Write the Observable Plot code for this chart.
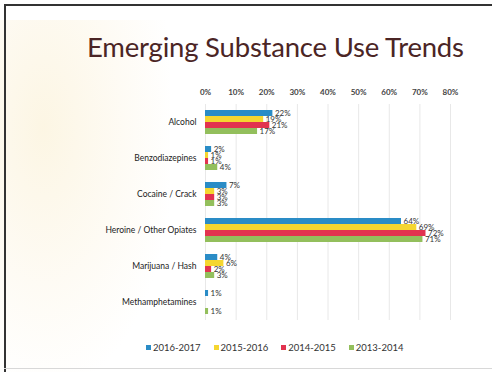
<!DOCTYPE html>
<html>
<head>
<meta charset="utf-8">
<script src="https://cdn.jsdelivr.net/npm/d3@7"></script>
<script src="https://cdn.jsdelivr.net/npm/@observablehq/plot@0.6"></script>
<style>
  html, body { margin: 0; padding: 0; background: #fff; }
  #wrap { position: relative; width: 492px; height: 372px; overflow: hidden; background: #fff; font-family: Lato, "Open Sans", sans-serif; }
  #swirl { position: absolute; left: -60px; top: 20px; width: 230px; height: 360px;
    background: radial-gradient(ellipse at 45% 30%, rgba(250,238,205,0.55) 0%, rgba(252,244,225,0.35) 45%, rgba(255,255,255,0) 75%); }
  #bl { position: absolute; left: 4px; top: 4px; width: 2px; height: 368px; background: #333; }
  #bt { position: absolute; left: 4px; top: 4px; width: 488px; height: 2px; background: #333; }
  #bb { position: absolute; left: 4px; top: 368px; width: 488px; height: 1px; background: #d8d8d8; }
  #title { position: absolute; left: 87px; top: 30px; font-size: 27.5px; color: #4b2525; white-space: nowrap; letter-spacing: -0.2px; }
  #chart { position: absolute; left: 0; top: 70px; }
  #legend { position: absolute; left: 146px; top: 342px; display: flex; gap: 13px; font-size: 9.5px; color: #333; white-space: nowrap; }
  #legend span.sw { display: inline-block; width: 5px; height: 5px; margin-right: 2px; vertical-align: 1px; }
</style>
</head>
<body>
<div id="wrap">
  <div id="swirl"></div>
  <div id="bl"></div><div id="bt"></div><div id="bb"></div>
  <div id="title">Emerging Substance Use Trends</div>
  <div id="chart"></div>
  <div id="legend"></div>
</div>
<script>
const categories = ["Alcohol", "Benzodiazepines", "Cocaine / Crack", "Heroine / Other Opiates", "Marijuana / Hash", "Methamphetamines"];
const series = ["2016-2017", "2015-2016", "2014-2015", "2013-2014"];
const colors = ["#2a8cc6", "#f5d630", "#e2334f", "#93bf5c"];
const v2016_2017 = [22, 2, 7, 64, 4, 1];
const v2015_2016 = [19, 1, 3, 69, 6, null];
const v2014_2015 = [21, 1, 3, 72, 2, null];
const v2013_2014 = [17, 4, 3, 71, 3, 1];
const xTicks = [0, 10, 20, 30, 40, 50, 60, 70, 80];

const valuesBySeries = [v2016_2017, v2015_2016, v2014_2015, v2013_2014];
const data = [];
categories.forEach((c, i) => {
  series.forEach((s, j) => {
    const v = valuesBySeries[j][i];
    if (v != null) data.push({cat: c, series: s, value: v});
  });
});

const chart = Plot.plot({
  width: 492,
  height: 257,
  marginLeft: 205,
  marginRight: 42,
  marginTop: 32,
  marginBottom: 5,
  style: {fontFamily: "Lato, 'Open Sans', sans-serif", background: "transparent"},
  x: {domain: [0, 80], ticks: xTicks, tickFormat: d => d + "%", axis: "top", label: null, tickSize: 0, tickPadding: 10},
  fy: {domain: categories, padding: 0, label: null, axis: null},
  y: {domain: series, axis: null, paddingInner: 0.06, paddingOuter: 0.85},
  color: {domain: series, range: colors},
  marks: [
    Plot.gridX(xTicks, {stroke: "#e8e8e8", strokeOpacity: 1}),
    Plot.barX(data, {fy: "cat", y: "series", x: "value", fill: "series"}),
    Plot.text(data, {fy: "cat", y: "series", x: "value", text: d => d.value + "%", textAnchor: "start", dx: 2, fontSize: 8, fill: "#333"}),
    Plot.text(categories, Plot.selectFirst({fy: d => d, frameAnchor: "left", text: d => d, textAnchor: "end", dx: -9, fontSize: 8.5, fill: "#222"}))
  ]
});
chart.querySelectorAll("g[aria-label='x-axis tick label'] text, g[aria-label='x-axis tick label']").forEach(t => {
  t.setAttribute("font-size", "8");
  t.setAttribute("font-weight", "bold");
  t.setAttribute("fill", "#444");
});
document.getElementById("chart").appendChild(chart);

const legend = document.getElementById("legend");
series.forEach((s, j) => {
  const item = document.createElement("div");
  const sw = document.createElement("span");
  sw.className = "sw";
  sw.style.background = colors[j];
  item.appendChild(sw);
  item.appendChild(document.createTextNode(s));
  legend.appendChild(item);
});
</script>
</body>
</html>
